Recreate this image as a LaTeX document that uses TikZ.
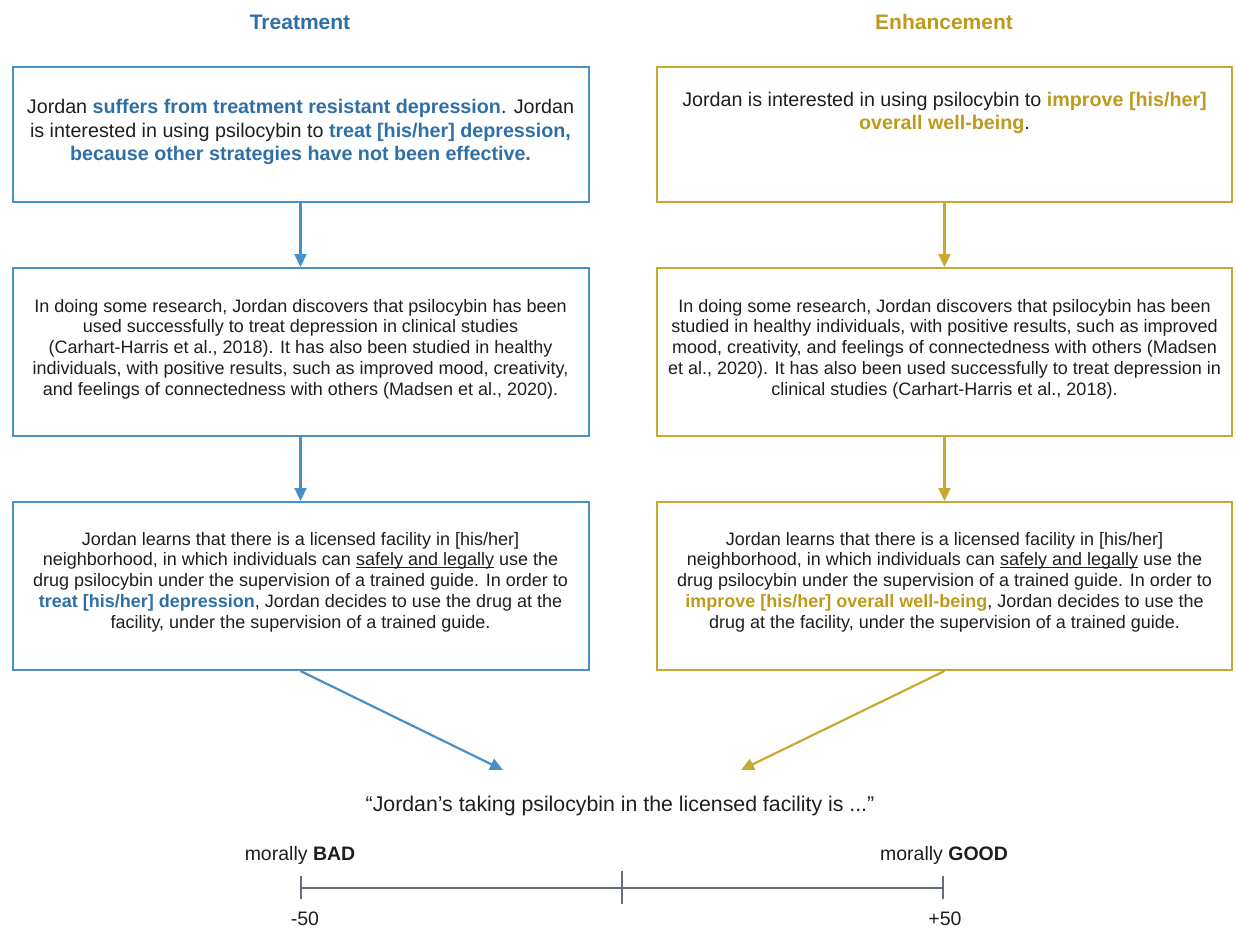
\documentclass[tikz,border=0pt]{standalone}
\usepackage{fontspec}
\setmainfont{Liberation Sans}
\usetikzlibrary{arrows.meta}
\definecolor{tblue}{HTML}{2F6FA6}
\definecolor{bblue}{HTML}{4A90C8}
\definecolor{tgold}{HTML}{BE9A1C}
\definecolor{bgold}{HTML}{C9A830}
\definecolor{txt}{HTML}{1E1E1E}
\definecolor{scalegray}{HTML}{666C78}
\newcommand\myul[1]{\setbox0\hbox{#1}\rlap{\rule[-2.6pt]{\wd0}{1pt}}\box0\relax}
\begin{document}
\begin{tikzpicture}[x=1pt,y=-1pt,
  boxblue/.style={draw=bblue,line width=2pt,minimum width=576pt,inner sep=0pt},
  boxgold/.style={draw=bgold,line width=2pt,minimum width=575pt,inner sep=0pt},
  bodytext/.style={text=txt,align=center,inner sep=0pt,font=\fontsize{18}{20.8}\selectfont},
  headtext/.style={text=txt,align=center,inner sep=0pt,font=\fontsize{19.7}{23.3}\selectfont},
  title/.style={inner sep=0pt,font=\fontsize{21}{25}\selectfont\bfseries},
  arrblue/.style={draw=bblue,line width=2.2pt,-{Triangle[width=12pt,length=13pt]}},
  arrgold/.style={draw=bgold,line width=2.2pt,-{Triangle[width=12pt,length=13pt]}},
  scaleline/.style={draw=scalegray,line width=2.2pt},
  smalltext/.style={text=txt,inner sep=0pt,font=\fontsize{19.5}{22}\selectfont}
]
\useasboundingbox (0,0) rectangle (1236,929);

% titles
\node[title,text=tblue] (tT) at (300,22) {Treatment};
\node[title,text=tgold] (tE) at (944,22) {Enhancement};

% boxes
\node[boxblue,minimum height=135pt] (L1) at (300.5,134.5) {};
\node[boxblue,minimum height=168pt] (L2) at (300.5,352) {};
\node[boxblue,minimum height=168pt] (L3) at (300.5,586) {};
\node[boxgold,minimum height=135pt] (R1) at (944.5,134.5) {};
\node[boxgold,minimum height=168pt] (R2) at (944.5,352) {};
\node[boxgold,minimum height=168pt] (R3) at (944.5,586) {};

% texts
\node[headtext] (L1t) at (300.5,132) {Jordan \textbf{\color{tblue}suffers from treatment resistant depression}. Jordan\\
is interested in using psilocybin to \textbf{\color{tblue}treat [his/her] depression,}\\
\textbf{\color{tblue}because other strategies have not been effective.}};

\node[headtext] (R1t) at (944.5,113) {Jordan is interested in using psilocybin to \textbf{\color{tgold}improve [his/her]}\\
\textbf{\color{tgold}overall well-being}.};

\node[bodytext] (L2t) at (300.5,349) {In doing some research, Jordan discovers that psilocybin has been\\
used successfully to treat depression in clinical studies\\
(Carhart-Harris et al., 2018). It has also been studied in healthy\\
individuals, with positive results, such as improved mood, creativity,\\
and feelings of connectedness with others (Madsen et al., 2020).};

\node[bodytext] (R2t) at (944.5,349) {In doing some research, Jordan discovers that psilocybin has been\\
studied in healthy individuals, with positive results, such as improved\\
mood, creativity, and feelings of connectedness with others (Madsen\\
et al., 2020). It has also been used successfully to treat depression in\\
clinical studies (Carhart-Harris et al., 2018).};

\node[bodytext] (L3t) at (300.5,582) {Jordan learns that there is a licensed facility in [his/her]\\
neighborhood, in which individuals can \myul{safely and legally} use the\\
drug psilocybin under the supervision of a trained guide. In order to\\
\textbf{\color{tblue}treat [his/her] depression}, Jordan decides to use the drug at the\\
facility, under the supervision of a trained guide.};

\node[bodytext] (R3t) at (944.5,582) {Jordan learns that there is a licensed facility in [his/her]\\
neighborhood, in which individuals can \myul{safely and legally} use the\\
drug psilocybin under the supervision of a trained guide. In order to\\
\textbf{\color{tgold}improve [his/her] overall well-being}, Jordan decides to use the\\
drug at the facility, under the supervision of a trained guide.};

% vertical arrows
\draw[arrblue] (L1.south) -- (L2.north);
\draw[arrblue] (L2.south) -- (L3.north);
\draw[arrgold] (R1.south) -- (R2.north);
\draw[arrgold] (R2.south) -- (R3.north);

% diagonal arrows
\coordinate (tipL) at (503,770);
\coordinate (tipR) at (741,770);
\draw[arrblue] (L3.south) -- (tipL);
\draw[arrgold] (R3.south) -- (tipR);

% question
\node[text=txt,inner sep=0pt,font=\fontsize{21.3}{24}\selectfont] (q) at (620,806) {“Jordan’s taking psilocybin in the licensed facility is ...”};

% scale
\coordinate (s0) at (301,888);
\coordinate (s1) at (943,888);
\coordinate (sm) at (622,888);
\draw[scaleline] (s0) -- (s1);
\draw[scaleline] ([yshift=-11pt]s0) -- ([yshift=12pt]s0);
\draw[scaleline] ([yshift=-11pt]s1) -- ([yshift=12pt]s1);
\draw[scaleline] ([yshift=-16pt]sm) -- ([yshift=17pt]sm);
\node[smalltext] (bad) at (300,855) {morally \textbf{BAD}};
\node[smalltext] (good) at (944,855) {morally \textbf{GOOD}};
\node[smalltext] (m50) at (305,919) {-50};
\node[smalltext] (p50) at (945,919) {+50};
\end{tikzpicture}
\end{document}
